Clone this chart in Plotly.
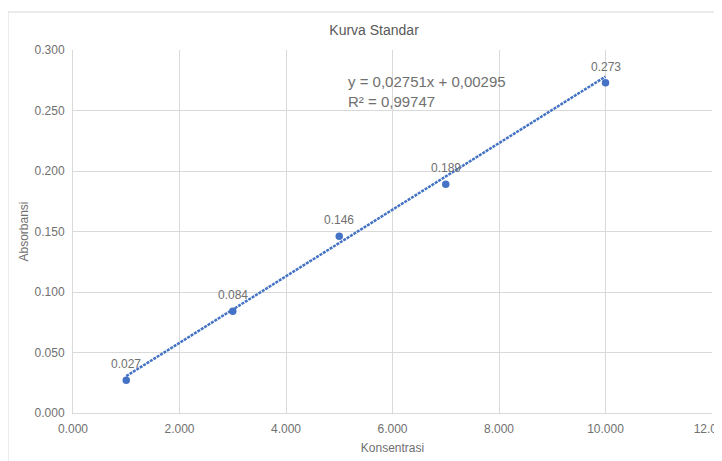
import plotly.graph_objects as go

konsentrasi = [1, 3, 5, 7, 10]
absorbansi = [0.027, 0.084, 0.146, 0.189, 0.273]
labels = ["0.027", "0.084", "0.146", "0.189", "0.273"]
slope = 0.02751
intercept = 0.00295
r2_text = "0,99747"
eq_text = "y = 0,02751x + 0,00295"
x_ticks = [0, 2, 4, 6, 8, 10, 12]
y_ticks = [0, 0.05, 0.10, 0.15, 0.20, 0.25, 0.30]

BLUE = "#4472C4"
GRAY = "#595959"
LGRAY = "#707070"
GRID = "#d9d9d9"
FONT = "Liberation Sans, Arial, sans-serif"

x_line = [min(konsentrasi), max(konsentrasi)]
y_line = [slope * v + intercept for v in x_line]

fig = go.Figure()
fig.add_trace(go.Scatter(
    x=x_line, y=y_line, mode="lines",
    line=dict(color=BLUE, width=2.5, dash="3px,1px"),
    hoverinfo="skip", showlegend=False,
))
fig.add_trace(go.Scatter(
    x=konsentrasi, y=absorbansi, mode="markers",
    marker=dict(color=BLUE, size=7.5),
    showlegend=False,
))
for xv, yv, lab in zip(konsentrasi, absorbansi, labels):
    fig.add_annotation(x=xv, y=yv, xref="x", yref="y", text=lab, showarrow=False,
                       yshift=16, font=dict(family=FONT, size=12, color=LGRAY))

fig.add_annotation(
    x=5.12, y=0.2830, xref="x", yref="y", xanchor="left", yanchor="top",
    text=eq_text + "<br>R² = " + r2_text, showarrow=False, align="left",
    font=dict(family=FONT, size=15, color=LGRAY),
)

# outer chart border
fig.add_shape(type="rect", xref="paper", yref="paper",
              x0=-0.1017, y0=-0.3, x1=1.2, y1=1.1047,
              line=dict(color="#d9d9d9", width=1), fillcolor="rgba(0,0,0,0)", layer="below")

fig.update_layout(
    width=722, height=461,
    margin=dict(l=65, r=18, t=42, b=56, autoexpand=False),
    paper_bgcolor="white", plot_bgcolor="white",
    font=dict(family=FONT, color=GRAY),
    title=dict(text="Kurva Standar", x=0.507, xanchor="center", y=1 - 22 / 461, yanchor="middle",
               font=dict(family=FONT, size=14, color=GRAY)),
)
fig.update_xaxes(
    range=[0, 12], tickvals=x_ticks, tickformat=".3f", automargin=False,
    ticklabeloverflow="allow", ticklabelstandoff=5,
    showgrid=True, gridcolor=GRID, gridwidth=1, zeroline=False,
    showline=True, linecolor=GRID, mirror=False,
    tickfont=dict(family=FONT, size=12, color=LGRAY),
    title=dict(text="Konsentrasi", font=dict(family=FONT, size=12, color=LGRAY), standoff=8),
)
fig.update_yaxes(
    range=[0, 0.3], tickvals=y_ticks, tickformat=".3f", automargin=False,
    ticklabelstandoff=5,
    showgrid=True, gridcolor=GRID, gridwidth=1, zeroline=False,
    showline=True, linecolor=GRID,
    tickfont=dict(family=FONT, size=12, color=LGRAY),
    title=dict(text="Absorbansi", font=dict(family=FONT, size=12, color=LGRAY), standoff=3),
)

fig.write_html("out.html")
